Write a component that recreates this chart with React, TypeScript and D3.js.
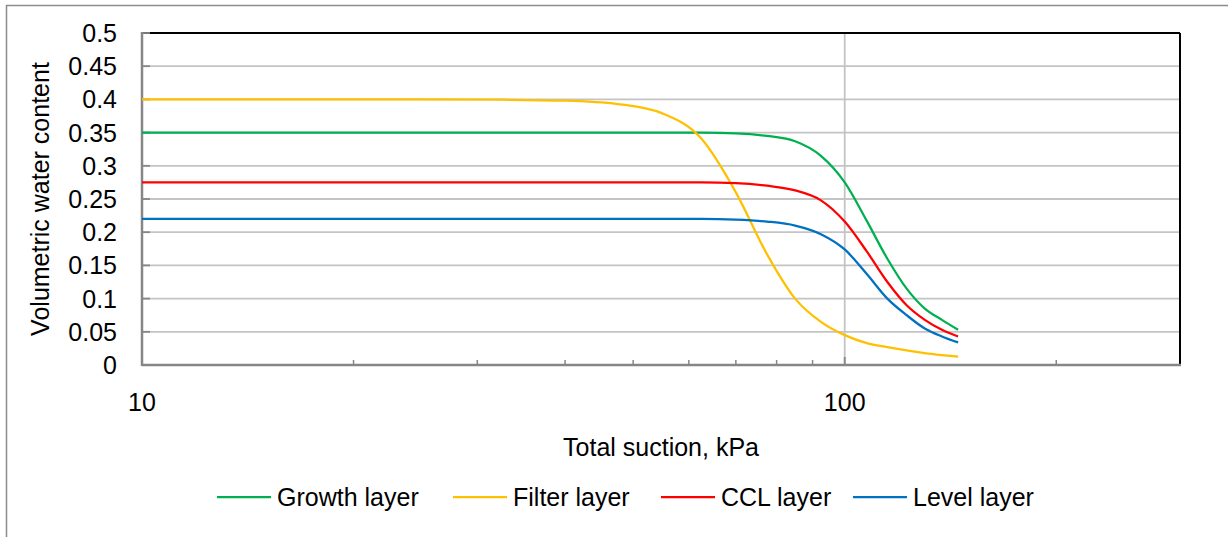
import React from "react";
import * as d3 from "d3";

const suction = [10, 17.5, 25, 32.5, 40, 47.5, 55, 62.5, 70, 77.5, 85, 92.5, 100, 107.5, 115, 122.5, 130, 137.5, 145];
const growth = [0.35, 0.35, 0.35, 0.35, 0.35, 0.35, 0.35, 0.35, 0.349, 0.345, 0.337, 0.315, 0.275, 0.217, 0.16, 0.115, 0.085, 0.068, 0.053];
const filter = [0.4, 0.4, 0.4, 0.3995, 0.398, 0.393, 0.379, 0.341, 0.26, 0.167, 0.1, 0.065, 0.045, 0.033, 0.027, 0.022, 0.018, 0.015, 0.0125];
const ccl = [0.275, 0.275, 0.275, 0.275, 0.275, 0.275, 0.275, 0.275, 0.274, 0.27, 0.263, 0.248, 0.216, 0.171, 0.125, 0.09, 0.068, 0.053, 0.043];
const level = [0.22, 0.22, 0.22, 0.22, 0.22, 0.22, 0.22, 0.22, 0.219, 0.216, 0.21, 0.197, 0.174, 0.137, 0.1, 0.075, 0.055, 0.043, 0.034];

const seriesNames = ["Growth layer", "Filter layer", "CCL layer", "Level layer"];
const seriesColors = ["#00B050", "#FFC000", "#FF0000", "#0070C0"];
const seriesValues = [growth, filter, ccl, level];

const yTicks = [0, 0.05, 0.1, 0.15, 0.2, 0.25, 0.3, 0.35, 0.4, 0.45, 0.5];
const yTickLabels = ["0", "0.05", "0.1", "0.15", "0.2", "0.25", "0.3", "0.35", "0.4", "0.45", "0.5"];
const xMajorTicks = [10, 100];
const xMinorTicks = [20, 30, 40, 50, 60, 70, 80, 90, 200];

const W = 1228;
const H = 537;
const plot = { left: 142, top: 33, right: 1180, bottom: 365 };
const FONT = "'Liberation Sans', Arial, sans-serif";
const FS = 25;
const legendX = [217, 453, 661, 853];

export default function App() {
  const x = d3.scaleLog().domain([10, 300]).range([plot.left, plot.right]);
  const y = d3.scaleLinear().domain([0, 0.5]).range([plot.bottom, plot.top]);
  const line = d3
    .line<number>()
    .x((_, i) => x(suction[i]))
    .y((d) => y(d))
    .curve(d3.curveMonotoneX);

  return (
    <svg
      width={W}
      height={H}
      style={{ position: "absolute", left: 0, top: 0, background: "#fff" }}
      fontFamily={FONT}
    >
      <rect x={0} y={0} width={W} height={H} fill="#fff" />
      {/* outer chart frame (only left/top visible) */}
      <line x1={6.5} y1={5} x2={6.5} y2={H} stroke="#8c8c8c" strokeWidth={1.5} />
      <line x1={6} y1={5.5} x2={W} y2={5.5} stroke="#8c8c8c" strokeWidth={1.5} />

      {/* horizontal gridlines */}
      {yTicks.slice(1, -1).map((t) => (
        <line key={"g" + t} x1={plot.left} x2={plot.right} y1={y(t)} y2={y(t)} stroke="#c4c4c4" strokeWidth={1.8} />
      ))}
      {/* vertical major gridline at 100 */}
      <line x1={x(100)} x2={x(100)} y1={plot.top} y2={plot.bottom} stroke="#c4c4c4" strokeWidth={1.8} />

      {/* plot border top & right */}
      <line x1={plot.left} x2={plot.right} y1={plot.top} y2={plot.top} stroke="#000" strokeWidth={2} />
      <line x1={plot.right} x2={plot.right} y1={plot.top} y2={plot.bottom} stroke="#000" strokeWidth={2} />

      {/* y major ticks (inside) */}
      {yTicks.map((t) => (
        <line key={"yt" + t} x1={plot.left} x2={plot.left + 8} y1={y(t)} y2={y(t)} stroke="#868686" strokeWidth={1.8} />
      ))}
      {/* x minor ticks */}
      {xMinorTicks.map((t) => (
        <line key={"xm" + t} x1={x(t)} x2={x(t)} y1={plot.bottom} y2={plot.bottom - 5} stroke="#868686" strokeWidth={1.5} />
      ))}
      {xMajorTicks.map((t) => (
        <line key={"xM" + t} x1={x(t)} x2={x(t)} y1={plot.bottom} y2={plot.bottom - 8} stroke="#868686" strokeWidth={1.8} />
      ))}

      {/* axes */}
      <line x1={plot.left} x2={plot.left} y1={plot.top - 1} y2={plot.bottom + 1} stroke="#868686" strokeWidth={2.5} />
      <line x1={plot.left} x2={plot.right + 1} y1={plot.bottom} y2={plot.bottom} stroke="#868686" strokeWidth={2.5} />

      {/* series */}
      {seriesValues.map((vals, i) => (
        <path key={seriesNames[i]} d={line(vals) || ""} fill="none" stroke={seriesColors[i]} strokeWidth={2.25} strokeLinejoin="round" />
      ))}

      {/* y tick labels */}
      {yTicks.map((t, i) => (
        <text key={"yl" + t} x={117} y={y(t)} dy="0.36em" textAnchor="end" fontSize={FS} fill="#000">
          {yTickLabels[i]}
        </text>
      ))}
      {/* x tick labels */}
      {xMajorTicks.map((t) => (
        <text key={"xl" + t} x={x(t)} y={411} textAnchor="middle" fontSize={FS} fill="#000">
          {String(t)}
        </text>
      ))}

      {/* axis titles */}
      <text x={(plot.left + plot.right) / 2} y={456} textAnchor="middle" fontSize={FS} fill="#000">
        Total suction, kPa
      </text>
      <text
        transform={`translate(40, ${(plot.top + plot.bottom) / 2}) rotate(-90)`}
        textAnchor="middle"
        dy="0.36em"
        fontSize={FS}
        fill="#000"
      >
        Volumetric water content
      </text>

      {/* legend */}
      {seriesNames.map((name, i) => (
        <g key={"lg" + name} transform={`translate(${legendX[i]}, 497)`}>
          <line x1={0} x2={54} y1={0} y2={0} stroke={seriesColors[i]} strokeWidth={2.25} />
          <text x={60} y={0} dy="0.36em" fontSize={FS} fill="#000">
            {name}
          </text>
        </g>
      ))}
    </svg>
  );
}
